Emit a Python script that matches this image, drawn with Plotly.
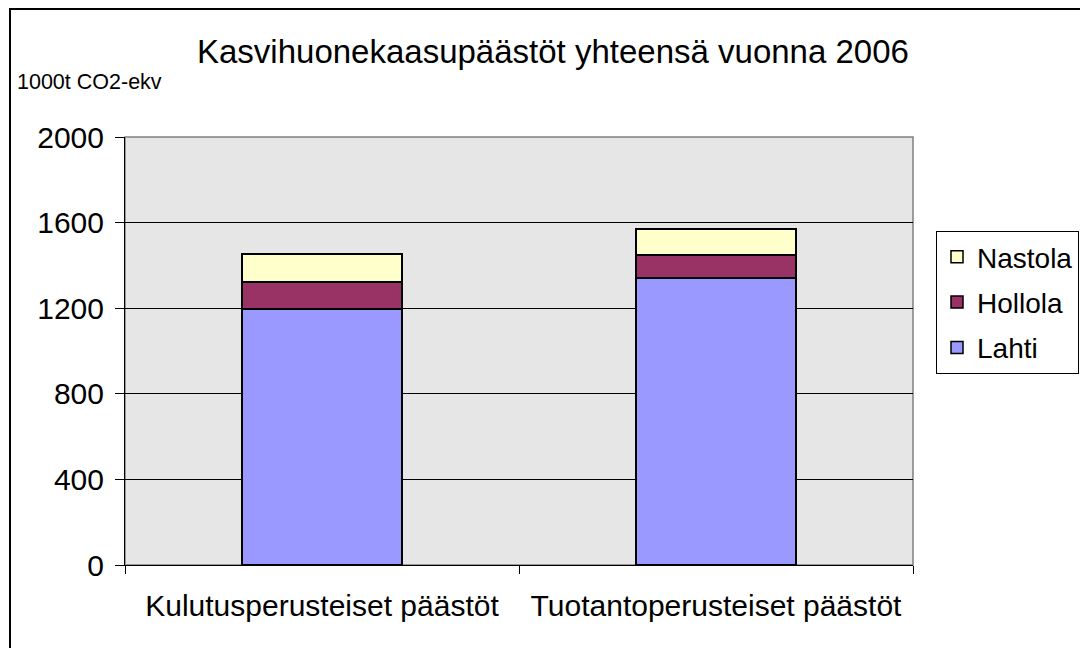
import plotly.graph_objects as go

categories = ["Kulutusperusteiset päästöt", "Tuotantoperusteiset päästöt"]
lahti = [1197, 1341]
hollola = [125, 108]
nastola = [131, 121]
y_ticks = [0, 400, 800, 1200, 1600, 2000]

FONT = "Liberation Sans, Arial, sans-serif"

fig = go.Figure()
fig.add_trace(go.Bar(name="Lahti", x=categories, y=lahti, legendrank=3, legendgroup="lahti",
                     marker=dict(color="#9999FF", line=dict(color="black", width=1.5))))
fig.add_trace(go.Bar(name="Hollola", x=categories, y=hollola, legendrank=2, legendgroup="hollola",
                     marker=dict(color="#993366", line=dict(color="black", width=1.5))))
fig.add_trace(go.Bar(name="Nastola", x=categories, y=nastola, legendrank=1, legendgroup="nastola",
                     marker=dict(color="#FFFFCC", line=dict(color="black", width=1.5))))

L, R, T, B = 125, 913, 137, 565
W, H = 1080, 648
pw, ph = R - L, B - T

def px(x):
    return (x - L) / pw

def py(y):
    return (B - y) / ph

fig.update_layout(
    width=W, height=H,
    margin=dict(l=L, r=W - R, t=T, b=H - B, autoexpand=False),
    barmode="stack",
    bargap=0.594,
    plot_bgcolor="#E6E6E6",
    paper_bgcolor="white",
    font=dict(family=FONT, color="black", size=30),
    showlegend=True,
    legend=dict(
        traceorder="grouped",
        tracegroupgap=6,
        x=px(936), y=py(231), xanchor="left", yanchor="top",
        bordercolor="black", borderwidth=1,
        font=dict(size=28, family=FONT),
    ),
    xaxis=dict(
        showline=True, linecolor="black", linewidth=1,
        ticks="outside", ticklen=8, tickcolor="black", tickson="boundaries",
        showgrid=False,
        tickfont=dict(size=30, family=FONT),
        ticklabelstandoff=14,
    ),
    yaxis=dict(
        range=[0, 2000],
        tickvals=y_ticks,
        showline=True, linecolor="black", linewidth=1,
        ticks="outside", ticklen=9, tickcolor="black",
        showgrid=True, gridcolor="black", gridwidth=1,
        zeroline=False,
        tickfont=dict(size=30, family=FONT),
        ticklabelstandoff=5,
    ),
    shapes=[
        dict(type="rect", xref="paper", yref="paper",
             x0=0, x1=1, y0=0, y1=1,
             line=dict(color="#808080", width=1.5), layer="below"),
        dict(type="rect", xref="paper", yref="paper",
             x0=px(10), x1=px(1090), y0=py(660), y1=py(9),
             line=dict(color="black", width=2)),
    ],
    annotations=[
        dict(text="Kasvihuonekaasupäästöt yhteensä vuonna 2006",
             xref="paper", yref="paper", x=px(553), y=py(52),
             xanchor="center", yanchor="middle", showarrow=False,
             font=dict(size=33, family=FONT)),
        dict(text="1000t CO2-ekv",
             xref="paper", yref="paper", x=px(15), y=py(82),
             xanchor="left", yanchor="middle", showarrow=False,
             font=dict(size=21.5, family=FONT)),
    ],
)

fig.write_html("out.html", config={"displayModeBar": False})

with open("out.html", encoding="utf-8") as f:
    html = f.read()
html = html.replace("<body>", "<body style=\"margin:0;overflow:hidden\">", 1)
with open("out.html", "w", encoding="utf-8") as f:
    f.write(html)
